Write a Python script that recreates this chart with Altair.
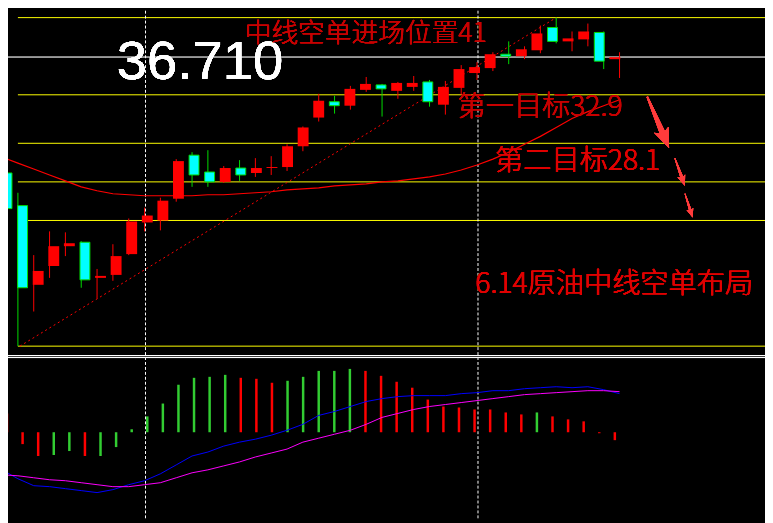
import altair as alt
import pandas as pd

# ---------------- data ----------------
candle_idx = list(range(40))
opens  = [25.2, 21.9, 13.9, 15.8, 17.8, 18.2, 14.6, 14.9, 17.0, 20.2,
          20.4, 22.6, 27.0, 25.3, 24.3, 25.7, 25.2, 25.7, 25.8, 27.9,
          30.8, 32.4, 32.0, 33.6, 34.1, 33.5, 33.9, 34.4, 32.1, 33.8,
          35.3, 35.8, 37.2, 37.0, 37.6, 39.9, 38.5, 38.7, 39.4, 36.7]
highs  = [25.4, 23.2, 16.9, 19.3, 19.2, 18.3, 15.5, 18.0, 20.6, 21.7,
          22.7, 26.6, 27.3, 27.5, 25.9, 26.5, 26.7, 26.9, 28.1, 29.9,
          33.2, 33.0, 34.0, 34.9, 34.2, 34.4, 35.0, 34.6, 34.5, 36.1,
          36.4, 37.4, 38.5, 38.0, 40.1, 40.9, 39.5, 40.3, 39.5, 37.4]
lows   = [20.4, 7.7, 11.2, 14.6, 16.8, 13.6, 12.5, 14.3, 16.9, 19.3,
          19.4, 22.3, 23.8, 23.8, 24.2, 24.4, 24.8, 25.0, 25.4, 27.4,
          30.4, 31.2, 31.6, 33.4, 30.9, 32.7, 33.5, 31.9, 31.1, 33.1,
          34.6, 35.5, 36.2, 36.7, 37.3, 38.3, 37.5, 38.0, 35.7, 34.8]
closes = [21.6, 13.6, 15.3, 17.8, 18.1, 14.4, 14.8, 16.8, 20.3, 20.9,
          22.4, 26.4, 25.0, 24.3, 25.7, 25.0, 25.7, 25.8, 27.9, 29.8,
          32.5, 32.0, 33.7, 34.2, 33.7, 34.3, 34.3, 32.4, 33.9, 35.7,
          35.9, 37.2, 37.0, 37.7, 39.3, 38.5, 38.8, 39.5, 36.5, 36.9]
moving_avg = [26.8, 26.2, 25.6, 25.0, 24.4, 23.8, 23.4, 23.1, 23.0, 22.9,
              22.9, 22.9, 22.9, 23.0, 23.0, 23.1, 23.2, 23.3, 23.5, 23.6,
              23.7, 23.9, 24.0, 24.1, 24.3, 24.4, 24.6, 24.8, 25.1, 25.5,
              26.0, 26.6, 27.3, 28.1, 28.9, 29.8, 30.7, 31.4, 32.0, 32.6]
macd_hist = [0.19, -0.12, -0.24, -0.23, -0.19, -0.24, -0.24, -0.15, 0.03, 0.16,
             0.29, 0.48, 0.55, 0.56, 0.58, 0.55, 0.54, 0.50, 0.52, 0.56,
             0.62, 0.62, 0.64, 0.62, 0.57, 0.51, 0.45, 0.33, 0.26, 0.25,
             0.23, 0.23, 0.20, 0.18, 0.20, 0.16, 0.13, 0.11, -0.01, -0.08]
hist_dir = ["down", "down", "down", "up", "up", "down", "up", "up", "up", "up",
            "up", "up", "up", "up", "up", "down", "down", "down", "up", "up",
            "up", "up", "up", "down", "down", "down", "down", "down", "down", "down",
            "down", "down", "down", "down", "up", "down", "down", "down", "down", "down"]
macd_blue = [-0.38, -0.47, -0.54, -0.55, -0.57, -0.59, -0.61, -0.58, -0.53, -0.49,
             -0.42, -0.33, -0.24, -0.20, -0.14, -0.10, -0.07, -0.03, 0.02, 0.08,
             0.17, 0.21, 0.26, 0.31, 0.34, 0.36, 0.37, 0.37, 0.37, 0.39,
             0.40, 0.42, 0.42, 0.44, 0.45, 0.46, 0.45, 0.46, 0.43, 0.39]
macd_magenta = [-0.43, -0.44, -0.46, -0.48, -0.49, -0.51, -0.53, -0.55, -0.55, -0.53,
                -0.51, -0.46, -0.41, -0.38, -0.34, -0.30, -0.25, -0.21, -0.17, -0.10,
                -0.06, -0.02, 0.02, 0.08, 0.15, 0.19, 0.23, 0.26, 0.28, 0.30,
                0.32, 0.34, 0.36, 0.38, 0.39, 0.40, 0.41, 0.42, 0.42, 0.41]
trend_idx = [1.125, 35.0]
trend_price = [7.7, 40.9]
level_prices = [40.9, 33.1, 28.2, 24.3, 20.4, 7.7]
last_price = 36.9
period_breaks = [9.06, 30.06]

price_label = "36.710"
entry_label = "中线空单进场位置41"
target1_label = "第一目标32.9"
target2_label = "第二目标28.1"
plan_label = "6.14原油中线空单布局"

# ---------------- tables ----------------
candles = pd.DataFrame({"i": candle_idx, "open": opens, "high": highs,
                        "low": lows, "close": closes, "ma": moving_avg})
macd = pd.DataFrame({"i": candle_idx, "h": macd_hist, "dir": hist_dir,
                     "blue": macd_blue, "mag": macd_magenta})
trend = pd.DataFrame({"i": trend_idx, "p": trend_price})
levels = pd.DataFrame({"p": level_prices})
breaks = pd.DataFrame({"i": period_breaks})

W, H = 765, 515
XS = alt.Scale(domain=[0, 40], range=[-6, 634], zero=False, nice=False)
PS = alt.Scale(domain=[0, 41.6], range=[416, 0], zero=False, nice=False)
MS = alt.Scale(domain=[-1, 1], range=[526, 326], zero=False, nice=False)


def xf(f):
    return alt.X(f, type="quantitative", scale=XS, axis=None)


def xd(v):
    return alt.X(datum=v, type="quantitative", scale=XS, axis=None)


def yp(f):
    return alt.Y(f, type="quantitative", scale=PS, axis=None)


def ypd(v):
    return alt.Y(datum=v, type="quantitative", scale=PS, axis=None)


def ym(f):
    return alt.Y(f, type="quantitative", scale=MS, axis=None)


layers = []

# horizontal yellow levels
layers.append(alt.Chart(levels).mark_rule(color="#FFFF00", strokeWidth=1).encode(
    x=xd(1), x2=alt.value(W), y=yp("p")))
# gray last-price line
layers.append(alt.Chart(levels).mark_rule(color="#9A9A9A", strokeWidth=1).encode(
    x=alt.value(0), x2=alt.value(W), y=ypd(last_price)))
# period separators
layers.append(alt.Chart(breaks).mark_rule(color="#FFFFFF", strokeWidth=1, strokeDash=[3, 2]).encode(
    x=xf("i"), y=alt.value(0), y2=alt.value(H)))
# panel separator
layers.append(alt.Chart(levels).mark_rule(color="#FFFFFF", strokeWidth=1).encode(
    x=alt.value(0), x2=alt.value(W), y=alt.value(348.5)))
layers.append(alt.Chart(levels).mark_rule(color="#FFFFFF", strokeWidth=1).encode(
    x=alt.value(0), x2=alt.value(W), y=alt.value(350.5)))

# moving average
layers.append(alt.Chart(candles).mark_line(color="#FF0000", strokeWidth=1.2).encode(
    x=xf("i"), y=yp("ma")))
# dotted trend line
layers.append(alt.Chart(trend).mark_line(color="#FF0000", strokeWidth=1, strokeDash=[2, 3]).encode(
    x=xf("i"), y=yp("p")))

# wicks
layers.append(alt.Chart(candles).mark_rule(strokeWidth=1).encode(
    x=xf("i"), y=yp("low"), y2=alt.Y2("high"),
    color=alt.condition("datum.close >= datum.open", alt.value("#FF0000"), alt.value("#00DD00"))))
# bodies
layers.append(alt.Chart(candles).transform_filter("datum.close >= datum.open").mark_bar(
    size=11, color="#FF0000").encode(x=xf("i"), y=yp("open"), y2=alt.Y2("close")))
layers.append(alt.Chart(candles).transform_filter("datum.close < datum.open").mark_bar(
    size=10, fill="#00FFFF", stroke="#00DD00", strokeWidth=1).encode(
    x=xf("i"), y=yp("open"), y2=alt.Y2("close")))

# MACD histogram and lines
layers.append(alt.Chart(macd).mark_bar(size=2.5).encode(
    x=xf("i"), y=ym("h"), y2=alt.Y2(datum=0),
    color=alt.condition("datum.dir == 'up'", alt.value("#32CD32"), alt.value("#FF0000"))))
layers.append(alt.Chart(macd).mark_line(color="#0000FF", strokeWidth=1).encode(
    x=xf("i"), y=ym("blue")))
layers.append(alt.Chart(macd).mark_line(color="#FF00FF", strokeWidth=1).encode(
    x=xf("i"), y=ym("mag")))

# texts
def label(txt, xi, yp_, size, color, font, weight):
    return alt.Chart(levels).mark_text(
        text=txt, align="left", baseline="middle", fontSize=size, color=color,
        font=font, fontWeight=weight
    ).encode(x=xd(xi), y=ypd(yp_))


layers.append(label(price_label, 7.25, 36.4, 55, "#FFFFFF", "Liberation Sans", 400))
layers.append(label(entry_label, 15.31, 39.2, 27, "#C80000", "Noto Sans CJK SC", 300))
layers.append(label(target1_label, 28.75, 31.9, 28.5, "#C80000", "Noto Sans CJK SC", 300))
layers.append(label(target2_label, 31.125, 26.4, 28.5, "#E00000", "Noto Sans CJK SC", 300))
layers.append(label(plan_label, 29.875, 14.0, 28.5, "#E00000", "Noto Sans CJK SC", 300))

# arrows
arrow_path = "M -0.03 -1 L 0.03 -1 L 0.1 0.38 L 0.28 0.28 L 0 1 L -0.28 0.28 L -0.1 0.38 Z"
for ai, ap, asz, aang in [(41.44, 30.3, 3190, 337), (42.81, 25.3, 885, 340), (43.375, 21.9, 640, 342)]:
    layers.append(alt.Chart(levels).mark_point(
        shape=arrow_path, filled=True, color="#FF3B3B", size=asz, angle=aang,
        opacity=1, strokeWidth=0).encode(x=xd(ai), y=ypd(ap)))

chart = alt.layer(*layers).resolve_scale(x="independent", y="independent").properties(
    width=W, height=H, background="black", padding=0,
    autosize=alt.AutoSizeParams(type="none")
).configure_view(strokeWidth=0)

chart.save("out.html", embed_options={"renderer": "svg", "actions": False})
